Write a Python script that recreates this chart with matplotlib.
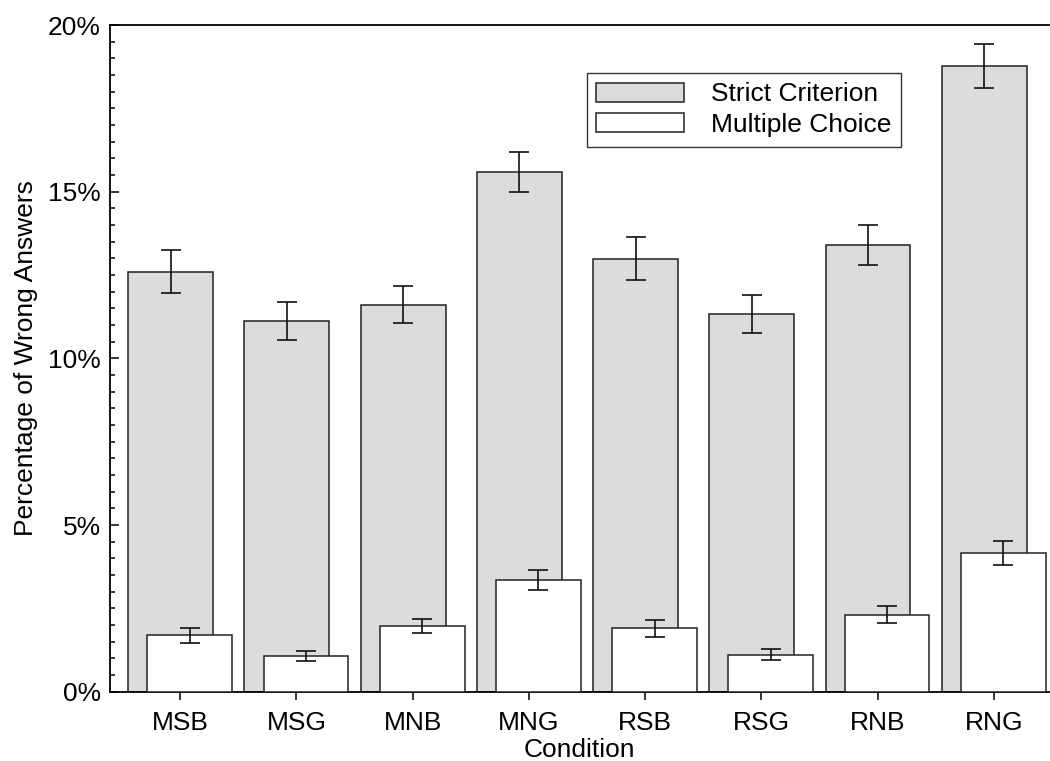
import matplotlib
matplotlib.use("Agg")
import matplotlib.pyplot as plt
from matplotlib.ticker import MultipleLocator, FuncFormatter
import numpy as np

plt.rcParams['font.family'] = ['Liberation Sans', 'DejaVu Sans']

conditions = ["MSB", "MSG", "MNB", "MNG", "RSB", "RSG", "RNB", "RNG"]
strict = [12.60, 11.12, 11.61, 15.59, 12.99, 11.33, 13.40, 18.78]
strict_err = [0.645, 0.58, 0.55, 0.60, 0.65, 0.575, 0.60, 0.66]
multiple = [1.70, 1.07, 1.98, 3.35, 1.90, 1.11, 2.31, 4.16]
multiple_err = [0.225, 0.16, 0.21, 0.30, 0.245, 0.17, 0.255, 0.35]

fig = plt.figure(figsize=(10.5, 7.61), dpi=100)
ax = fig.add_axes([0.1052, 0.0911, 0.8938, 0.876])

x = np.arange(len(conditions))
width = 0.73
shift = 0.082
edge = "#222222"
fs = 19

ax.bar(x - shift, strict, width, color="#dcdcdc", edgecolor=edge, linewidth=1.1,
       label="Strict Criterion", zorder=2)
ax.bar(x + shift, multiple, width, color="white", edgecolor=edge, linewidth=1.1,
       label="Multiple Choice", zorder=3)
ax.errorbar(x - shift, strict, yerr=strict_err, fmt="none", ecolor="#111111",
            elinewidth=1.2, capsize=7, capthick=1.2, zorder=4)
ax.errorbar(x + shift, multiple, yerr=multiple_err, fmt="none", ecolor="#111111",
            elinewidth=1.2, capsize=7, capthick=1.2, zorder=4)

ax.set_xlim(-0.6, 7.475)
ax.set_ylim(0, 20)
ax.set_xticks(x)
ax.set_xticklabels(conditions)
ax.yaxis.set_major_locator(MultipleLocator(5))
ax.yaxis.set_minor_locator(MultipleLocator(0.5))
ax.yaxis.set_major_formatter(FuncFormatter(lambda v, p: f"{v:.0f}%"))

ax.spines["right"].set_visible(False)
for s in ("left", "bottom", "top"):
    ax.spines[s].set_linewidth(1.3)
    ax.spines[s].set_color("black")

ax.tick_params(axis="y", which="major", direction="in", length=6.5, width=1.1,
               labelsize=fs, pad=7)
ax.tick_params(axis="y", which="minor", direction="in", length=3.6, width=1.1)
ax.tick_params(axis="x", which="major", direction="out", length=6, width=1.1,
               labelsize=fs, pad=8)

ax.set_ylabel("Percentage of Wrong Answers", fontsize=fs, labelpad=7)
ax.set_xlabel("Condition", fontsize=fs, labelpad=2)

leg = ax.legend(loc="upper left", bbox_to_anchor=(586.7 / 1050, 1 - 72.7 / 761),
                bbox_transform=fig.transFigure, fontsize=fs, frameon=True,
                fancybox=False, borderaxespad=0, borderpad=0.37,
                handlelength=3.3, handleheight=0.72, handletextpad=1.05,
                labelspacing=0.25)
leg.get_frame().set_edgecolor("black")
leg.get_frame().set_linewidth(1.0)
leg.set_zorder(5)

fig.savefig("out.png", dpi=100)
